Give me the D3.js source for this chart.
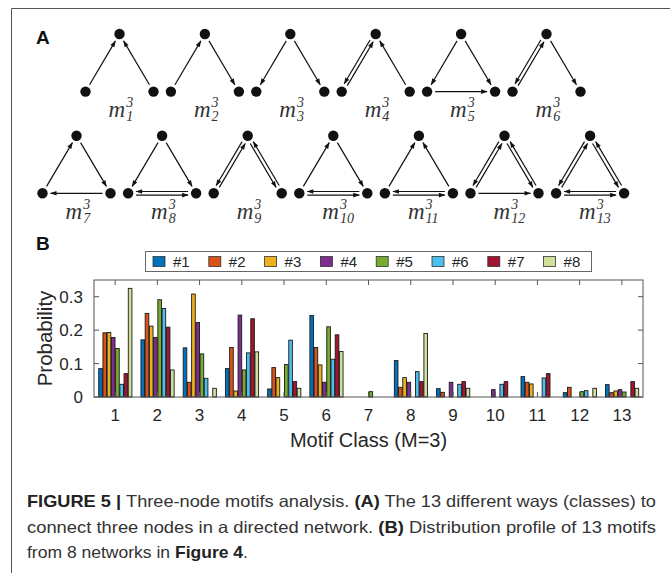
<!DOCTYPE html>
<html><head><meta charset="utf-8">
<script src="https://cdn.jsdelivr.net/npm/d3@7"></script>
<style>body{margin:0;background:#fff}svg{display:block}</style>
</head><body>
<script>
// ---------- data ----------
const categories = ["1","2","3","4","5","6","7","8","9","10","11","12","13"];
const seriesNames = ["#1","#2","#3","#4","#5","#6","#7","#8"];
const net1 = [0.085,0.171,0.147,0.085,0.024,0.244,0,0.109,0.025,0,0.061,0.013,0.037];
const net2 = [0.192,0.250,0.044,0.148,0.088,0.148,0,0.029,0.014,0,0.044,0.029,0.013];
const net3 = [0.193,0.212,0.308,0.018,0.058,0.096,0,0.058,0,0,0.039,0,0.018];
const net4 = [0.178,0.178,0.223,0.245,0,0.044,0,0.044,0.044,0.022,0,0,0.022];
const net5 = [0.145,0.291,0.129,0.081,0.097,0.210,0.016,0,0,0,0,0.016,0.015];
const net6 = [0.038,0.265,0.056,0.132,0.170,0.113,0,0.076,0.038,0.038,0.057,0.019,0];
const net7 = [0.070,0.209,0,0.234,0.046,0.186,0,0.046,0.046,0.046,0.070,0,0.046];
const net8 = [0.325,0.081,0.026,0.135,0.026,0.136,0,0.190,0.026,0,0,0.026,0.026];
const yTicks = [0,0.1,0.2,0.3];
const yTickLabels = ["0","0.1","0.2","0.3"];
const colors = ["#0072BD","#D95319","#EDB120","#7E2F8E","#77AC30","#4DBEEE","#A2142F","#CFE09D"];
// motif edges: [from, to, mutual?]
const motifNames = ["1","2","3","4","5","6","7","8","9","10","11","12","13"];
const motifEdges = [
  [["L","T"],["R","T"]],
  [["L","T"],["T","R"]],
  [["T","L"],["T","R"]],
  [["L","T",2],["R","T"]],
  [["T","L"],["T","R"],["L","R"]],
  [["L","T",2],["T","R"]],
  [["L","T"],["T","R"],["R","L"]],
  [["T","L"],["T","R"],["L","R",2]],
  [["L","T",2],["T","R",2]],
  [["L","T"],["T","R"],["L","R",2]],
  [["L","T"],["R","T"],["L","R",2]],
  [["L","T",2],["T","R",2],["L","R"]],
  [["L","T",2],["T","R",2],["L","R",2]]
];
const series = [net1,net2,net3,net4,net5,net6,net7,net8];

// ---------- svg ----------
const W = 670, H = 573;
const svg = d3.select("body").append("svg").attr("width",W).attr("height",H);
svg.append("defs").append("marker")
  .attr("id","ah").attr("markerUnits","userSpaceOnUse")
  .attr("markerWidth",8).attr("markerHeight",8)
  .attr("viewBox","-1 -4 8 8").attr("refX",6).attr("refY",0).attr("orient","auto")
  .append("path").attr("d","M0,-2.3L6.5,0L0,2.3Z").attr("fill","#111");

// frame
svg.append("path").attr("d","M11.5,573 V8.5 H670").attr("fill","none").attr("stroke","#555").attr("stroke-width",1);

// panel labels
svg.append("text").attr("x",36).attr("y",44).text("A")
  .attr("font-family","Liberation Sans, Arial, sans-serif").attr("font-weight","bold").attr("font-size",19).attr("fill","#111");
svg.append("text").attr("x",36).attr("y",250).text("B")
  .attr("font-family","Liberation Sans, Arial, sans-serif").attr("font-weight","bold").attr("font-size",19).attr("fill","#111");

// ---------- motifs ----------
const hw = 34, th = 57.6, nodeR = 5.2, gap = 2.8;
motifNames.forEach((name,i)=>{
  const row = i<6?0:1, col = i<6?i:i-6;
  const cx = row===0 ? 119.5 + col*85.4 : 76.5 + col*85.6;
  const ty = row===0 ? 34 : 135.7;
  const P = {T:[cx,ty], L:[cx-hw,ty+th], R:[cx+hw,ty+th]};
  const g = svg.append("g");
  motifEdges[i].forEach(e=>{
    const a=P[e[0]], b=P[e[1]];
    const dx=b[0]-a[0], dy=b[1]-a[1], len=Math.hypot(dx,dy);
    const ux=dx/len, uy=dy/len, px=-uy, py=ux;
    const s = nodeR+gap;
    const draw=(p,q,off)=>{
      g.append("line")
        .attr("x1",p[0]+ux*s*(p===a?1:-1)+px*off).attr("y1",p[1]+uy*s*(p===a?1:-1)+py*off)
        .attr("x2",q[0]-ux*s*(q===b?1:-1)+px*off).attr("y2",q[1]-uy*s*(q===b?1:-1)+py*off)
        .attr("stroke","#111").attr("stroke-width",1.2).attr("marker-end","url(#ah)");
    };
    if(e[2]===2){ draw(a,b,1.8); draw(b,a,-1.8);} else draw(a,b,0);
  });
  ["T","L","R"].forEach(k=>g.append("circle").attr("cx",P[k][0]).attr("cy",P[k][1]).attr("r",nodeR).attr("fill","#111"));
  const ly = ty+th+25.5;
  const lx = cx-11;
  const t = g.append("text").attr("x",lx).attr("y",ly)
    .attr("font-family","Liberation Serif, serif").attr("font-style","italic").attr("fill","#333");
  t.append("tspan").attr("font-size",23).text("m");
  t.append("tspan").attr("font-size",14).attr("dx",1).attr("dy",-10).text("3");
  t.append("tspan").attr("font-size",14).attr("dx",-7).attr("dy",14).text(name);
});

// ---------- bar chart ----------
const L=94, R=643, T=280, B=397;
const x = d3.scaleBand().domain(categories).range([L,R]).paddingInner(0.2).paddingOuter(0.1);
const xs = d3.scaleBand().domain(seriesNames).range([0,x.bandwidth()]).padding(0);
const y = d3.scaleLinear().domain([0,0.35]).range([B,T]);

const bars = svg.append("g");
series.forEach((vals,si)=>{
  bars.selectAll(null).data(vals.map((v,ci)=>({v,c:categories[ci]})).filter(d=>d.v>0))
    .join("rect")
    .attr("x",d=>x(d.c)+xs(seriesNames[si])+0.5)
    .attr("width",xs.bandwidth()-0.6)
    .attr("y",d=>y(d.v)).attr("height",d=>y(0)-y(d.v))
    .attr("fill",colors[si]).attr("stroke","#1a1a1a").attr("stroke-width",0.9);
});

const axisColor="#555", tickLen=5;
const ax = svg.append("g").attr("stroke",axisColor).attr("stroke-width",1).attr("fill","none");
ax.append("rect").attr("x",L).attr("y",T).attr("width",R-L).attr("height",B-T);
categories.forEach(c=>{
  const cx = x(c)+x.bandwidth()/2;
  ax.append("line").attr("x1",cx).attr("x2",cx).attr("y1",T).attr("y2",T+tickLen);
  ax.append("line").attr("x1",cx).attr("x2",cx).attr("y1",B).attr("y2",B-tickLen);
});
yTicks.forEach(t=>{
  ax.append("line").attr("x1",L).attr("x2",L+tickLen).attr("y1",y(t)).attr("y2",y(t));
  ax.append("line").attr("x1",R).attr("x2",R-tickLen).attr("y1",y(t)).attr("y2",y(t));
});
const font="Liberation Sans, Arial, sans-serif", tc="#262626";
svg.append("g").selectAll("text").data(categories).join("text")
  .attr("x",c=>x(c)+x.bandwidth()/2).attr("y",421).attr("text-anchor","middle")
  .attr("font-family",font).attr("font-size",17).attr("fill",tc).text(c=>c);
svg.append("g").selectAll("text").data(yTicks).join("text")
  .attr("x",83).attr("y",t=>y(t)+6).attr("text-anchor","end")
  .attr("font-family",font).attr("font-size",17).attr("fill",tc).text((t,i)=>yTickLabels[i]);
svg.append("text").attr("transform",`translate(52,${(T+B)/2}) rotate(-90)`).attr("text-anchor","middle")
  .attr("font-family",font).attr("font-size",20.5).attr("fill",tc).text("Probability");
svg.append("text").attr("x",(L+R)/2).attr("y",447).attr("text-anchor","middle")
  .attr("font-family",font).attr("font-size",20).attr("fill",tc).text("Motif Class (M=3)");

// legend
const lg = svg.append("g");
lg.append("rect").attr("x",145.5).attr("y",251.5).attr("width",446).attr("height",20).attr("fill","#fff").attr("stroke","#666");
seriesNames.forEach((n,i)=>{
  const sx = 153 + i*55.8;
  lg.append("rect").attr("x",sx).attr("y",256.5).attr("width",12).attr("height",10).attr("fill",colors[i]).attr("stroke","#333").attr("stroke-width",0.8);
  lg.append("text").attr("x",sx+20).attr("y",267).attr("font-family",font).attr("font-size",15).attr("fill",tc).text(n);
});

// caption
const cap = svg.append("g").attr("font-family",font).attr("font-size",16.5).attr("fill","#333");
const lines = [
  [["FIGURE 5 | ",true],["Three-node motifs analysis. ",false],["(A)",true],[" The 13 different ways (classes) to",false]],
  [["connect three nodes in a directed network. ",false],["(B)",true],[" Distribution profile of 13 motifs",false]],
  [["from 8 networks in ",false],["Figure 4",true],[".",false]]
];
const lens=[629,629,221];
lines.forEach((ln,i)=>{
  const t = cap.append("text").attr("x",27).attr("y",507+i*25.5)
    .attr("textLength",lens[i]).attr("lengthAdjust","spacingAndGlyphs");
  ln.forEach(([s,b])=>t.append("tspan").attr("font-weight",b?"bold":"normal").attr("fill",b?"#222":"#333").text(s));
});
</script>
</body></html>
